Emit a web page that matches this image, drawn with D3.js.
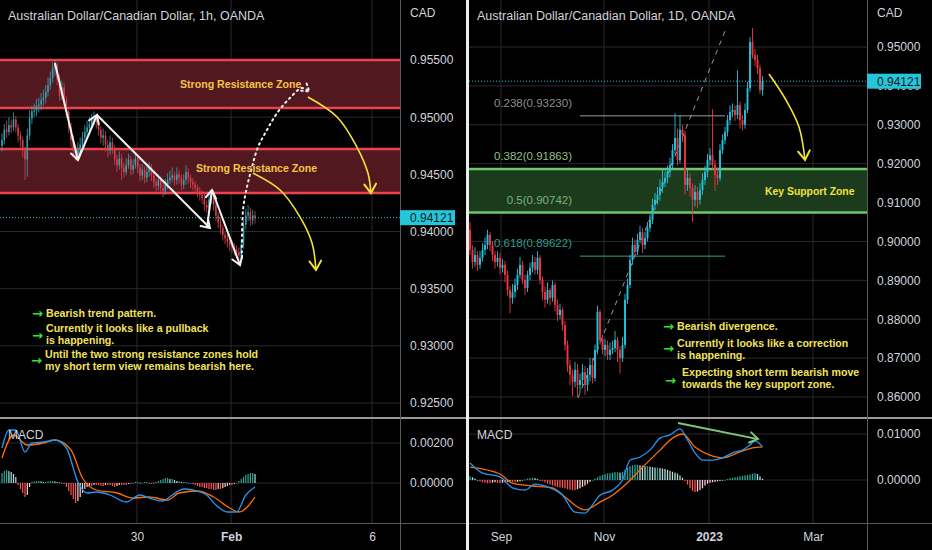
<!DOCTYPE html>
<html><head><meta charset="utf-8">
<script src="https://cdn.jsdelivr.net/npm/d3@7"></script>
<style>html,body{margin:0;padding:0;background:#000;overflow:hidden}svg{display:block}</style>
</head><body>
<svg id="c" width="932" height="550"></svg>
<script>
// ---------------- DATA ----------------
// Left: AUD/CAD 1h
const leftFirstOpen = 0.9475;
const leftClose = [0.9480,0.9489,0.9487,0.9493,0.9491,0.9498,0.9491,0.9484,0.9480,0.9471,
0.9463,0.9484,0.9499,0.9505,0.9506,0.9510,0.9511,0.9515,0.9517,0.9522,
0.9528,0.9534,0.9543,0.9546,0.9533,0.9519,0.9526,0.9515,0.9505,0.9491,
0.9480,0.9471,0.9467,0.9471,0.9476,0.9482,0.9487,0.9491,0.9494,0.9498,
0.9499,0.9496,0.9489,0.9482,0.9484,0.9476,0.9471,0.9478,0.9473,0.9463,
0.9458,0.9464,0.9456,0.9452,0.9458,0.9463,0.9454,0.9458,0.9464,0.9456,
0.9449,0.9454,0.9447,0.9452,0.9456,0.9449,0.9443,0.9440,0.9445,0.9438,
0.9435,0.9441,0.9445,0.9447,0.9449,0.9445,0.9450,0.9447,0.9441,0.9445,
0.9452,0.9447,0.9443,0.9441,0.9438,0.9435,0.9432,0.9429,0.9423,0.9421,
0.9428,0.9432,0.9423,0.9414,0.9408,0.9403,0.9397,0.9394,0.9391,0.9388,
0.9386,0.9384,0.9382,0.9379,0.9388,0.9406,0.9414,0.9417,0.9410,0.9414,
0.94121];
const leftHigh = [0.9486,0.9494,0.9497,0.9500,0.9498,0.9504,0.9501,0.9494,0.9488,0.9483,
0.9474,0.9490,0.9506,0.9510,0.9512,0.9516,0.9517,0.9521,0.9524,0.9528,
0.9535,0.9540,0.9548,0.9550,0.9548,0.9537,0.9532,0.9530,0.9518,0.9509,
0.9495,0.9484,0.9476,0.9478,0.9482,0.9487,0.9493,0.9497,0.9500,0.9503,
0.9505,0.9503,0.9499,0.9492,0.9490,0.9488,0.9480,0.9484,0.9482,0.9476,
0.9467,0.9470,0.9468,0.9460,0.9464,0.9468,0.9466,0.9463,0.9469,0.9467,
0.9459,0.9459,0.9457,0.9457,0.9461,0.9459,0.9452,0.9447,0.9450,0.9448,
0.9442,0.9446,0.9451,0.9453,0.9456,0.9452,0.9456,0.9454,0.9450,0.9450,
0.9458,0.9455,0.9450,0.9447,0.9444,0.9441,0.9439,0.9436,0.9433,0.9427,
0.9434,0.9437,0.9435,0.9426,0.9417,0.9412,0.9406,0.9400,0.9398,0.9395,
0.9392,0.9390,0.9388,0.9386,0.9392,0.9410,0.9420,0.9423,0.9421,0.9419,
0.9418];
const leftLow = [0.9470,0.9476,0.9482,0.9484,0.9486,0.9488,0.9487,0.9478,0.9474,0.9465,
0.9445,0.9448,0.9480,0.9494,0.9500,0.9501,0.9504,0.9506,0.9510,0.9512,
0.9518,0.9524,0.9530,0.9536,0.9528,0.9514,0.9515,0.9510,0.9499,0.9486,
0.9474,0.9466,0.9462,0.9463,0.9468,0.9472,0.9478,0.9483,0.9486,0.9490,
0.9493,0.9490,0.9484,0.9477,0.9475,0.9470,0.9465,0.9467,0.9468,0.9458,
0.9452,0.9454,0.9445,0.9447,0.9449,0.9455,0.9449,0.9450,0.9455,0.9451,
0.9444,0.9445,0.9442,0.9443,0.9448,0.9444,0.9438,0.9435,0.9436,0.9433,
0.9430,0.9432,0.9437,0.9441,0.9443,0.9440,0.9441,0.9442,0.9436,0.9437,
0.9441,0.9442,0.9438,0.9436,0.9433,0.9430,0.9427,0.9424,0.9418,0.9416,
0.9418,0.9424,0.9418,0.9409,0.9403,0.9398,0.9392,0.9389,0.9386,0.9383,
0.9381,0.9379,0.9377,0.9375,0.9376,0.9385,0.9402,0.9409,0.9405,0.9406,
0.9407];
const leftMacdIdx = [0,3,6,10,13,18,23,28,33,37,41,47,54,60,64,70,74,79,83,89,93,98,102,106,110];
const leftMacdVal = [0.00175,0.00265,0.00265,0.00155,0.0020,0.00205,0.00215,0.00175,0.00005,-0.0005,-0.00045,-0.0006,-0.00095,-0.0006,-0.00075,-0.0009,-0.0006,-0.0003,-0.00035,-0.0006,-0.0011,-0.00145,-0.00145,-0.0006,-0.0002];
const leftSignalIdx = [0,5,11,18,23,30,35,41,50,57,64,72,77,85,92,99,103,110];
const leftSignalVal = [0.00125,0.0024,0.0019,0.0020,0.00215,0.00165,0.00025,-0.00035,-0.0005,-0.00075,-0.0007,-0.00085,-0.0005,-0.0004,-0.0007,-0.00125,-0.00145,-0.0007];
const leftHistE5 = [50,60,65,60,55,45,30,
-10,-30,-50,-70,-60,-20,
5,8,10,10,8,5,5,8,10,10,8,5,3,0,-5,
-20,-40,-60,-80,-100,-90,-70,-50,-30,
-20,-15,-15,-10,-10,-10,-15,-15,-10,-10,-10,-15,-20,-15,-10,-10,-10,-10,-5,-5,
0,5,5,0,0,5,5,0,-5,-5,
5,10,15,20,25,25,20,20,15,10,10,5,5,5,0,0,
-5,-10,-15,-20,-20,-25,-25,-30,-30,-35,-35,-30,-30,-25,-20,-15,-10,-10,-5,0,
10,20,30,40,45,50,50,45];
const leftPriceTicks = [0.955,0.95,0.945,0.94,0.935,0.93,0.925];
const leftMacdTicks = [0.002,0];
const leftTimeIdx = [58.7,99.6,160.9];
const leftTimeLabels = ["30","Feb","6"];
const leftZones = [[0.9508,0.9550],[0.94336,0.94721]];
const lastPrice = 0.94121;

// Right: AUD/CAD 1D
const rightFirstOpen = 0.9030;
const rightClose = [0.8978,0.8947,0.8965,0.8940,0.8958,0.8978,0.8991,0.9017,0.8991,0.8965,
0.8947,0.8958,0.8932,0.8940,0.8914,0.8875,0.8855,0.8870,0.8888,0.8914,
0.8940,0.8901,0.8880,0.8914,0.8932,0.8947,0.8927,0.8958,0.8901,0.8870,
0.8850,0.8875,0.8855,0.8888,0.8837,0.8811,0.8824,0.8785,0.8734,0.8682,
0.8657,0.8639,0.8670,0.8631,0.8644,0.8664,0.8631,0.8657,0.8682,0.8649,
0.8721,0.8819,0.8747,0.8721,0.8734,0.8708,0.8721,0.8726,0.8747,0.8721,
0.8700,0.8734,0.8850,0.8888,0.8952,0.8991,0.8973,0.9004,0.9024,0.8991,
0.9009,0.9035,0.9055,0.9094,0.9107,0.9120,0.9138,0.9153,0.9163,0.9179,
0.9197,0.9235,0.9266,0.9209,0.9287,0.9274,0.9145,0.9163,0.9138,0.9107,
0.9127,0.9107,0.9132,0.9158,0.9179,0.9209,0.9222,0.9197,0.9171,0.9163,
0.9235,0.9261,0.9282,0.9312,0.9333,0.9338,0.9325,0.9351,0.9312,0.9300,
0.9338,0.9394,0.9513,0.9479,0.9467,0.9446,0.9389,0.94121];
const rightHigh = [0.9050,0.8990,0.8985,0.8975,0.8975,0.8995,0.9010,0.9030,0.9025,0.9000,
0.8975,0.8975,0.8970,0.8955,0.8950,0.8925,0.8885,0.8890,0.8905,0.8930,
0.8960,0.8950,0.8915,0.8925,0.8945,0.8965,0.8960,0.8975,0.8965,0.8910,
0.8885,0.8895,0.8880,0.8900,0.8895,0.8850,0.8840,0.8830,0.8795,0.8745,
0.8695,0.8670,0.8690,0.8685,0.8660,0.8685,0.8680,0.8675,0.8700,0.8700,
0.8735,0.8835,0.8825,0.8760,0.8750,0.8745,0.8740,0.8745,0.8770,0.8755,
0.8730,0.8755,0.8865,0.8905,0.8965,0.9010,0.9005,0.9020,0.9040,0.9035,
0.9025,0.9050,0.9070,0.9110,0.9125,0.9140,0.9160,0.9185,0.9180,0.9195,
0.9215,0.9250,0.9330,0.9290,0.9325,0.9300,0.9285,0.9185,0.9175,0.9150,
0.9145,0.9140,0.9150,0.9175,0.9195,0.9225,0.9240,0.9340,0.9210,0.9190,
0.9250,0.9275,0.9295,0.9325,0.9350,0.9355,0.9350,0.9440,0.9360,0.9325,
0.9355,0.9410,0.9525,0.9549,0.9495,0.9480,0.9455,0.9425];
const rightLow = [0.8965,0.8930,0.8935,0.8925,0.8930,0.8948,0.8965,0.8980,0.8975,0.8950,
0.8930,0.8935,0.8915,0.8920,0.8895,0.8860,0.8816,0.8840,0.8855,0.8875,
0.8905,0.8890,0.8862,0.8870,0.8900,0.8920,0.8915,0.8915,0.8890,0.8850,
0.8830,0.8840,0.8835,0.8845,0.8820,0.8795,0.8800,0.8770,0.8720,0.8665,
0.8630,0.8602,0.8625,0.8600,0.8610,0.8625,0.8605,0.8615,0.8640,0.8635,
0.8640,0.8710,0.8735,0.8710,0.8705,0.8695,0.8695,0.8710,0.8715,0.8690,
0.8660,0.8690,0.8725,0.8840,0.8880,0.8940,0.8960,0.8965,0.8995,0.8970,
0.8980,0.9000,0.9025,0.9045,0.9080,0.9095,0.9105,0.9125,0.9140,0.9150,
0.9165,0.9185,0.9225,0.9195,0.9200,0.9255,0.9120,0.9130,0.9115,0.9050,
0.9090,0.9085,0.9095,0.9120,0.9145,0.9165,0.9195,0.9185,0.9130,0.9145,
0.9155,0.9225,0.9250,0.9270,0.9300,0.9320,0.9310,0.9315,0.9290,0.9285,
0.9290,0.9330,0.9385,0.9470,0.9450,0.9430,0.9380,0.9375];
const rightMacdIdx = [0,5,12,17,22,26,32,37,42,46,49,52,57,61,64,68,72,76,80,84,87,90,93,97,101,105,109,112,114,117];
const rightMacdVal = [0.0037,0.0015,0.0007,-0.0017,-0.0022,-0.0009,-0.0017,-0.0033,-0.0070,-0.0072,-0.0054,-0.0033,-0.0022,0.0000,0.0043,0.0050,0.0065,0.0091,0.0098,0.0111,0.0087,0.0059,0.0043,0.0043,0.0048,0.0059,0.0065,0.0076,0.0085,0.0072];
const rightSignalIdx = [0,12,17,25,33,38,46,52,57,62,68,76,81,85,90,96,101,108,113,117];
const rightSignalVal = [0.0028,0.0013,-0.0007,-0.0013,-0.0017,-0.0037,-0.0065,-0.0048,-0.0033,-0.0011,0.0022,0.0065,0.0091,0.0100,0.0072,0.0054,0.0048,0.0061,0.0070,0.0072];
const rightHistE4 = [8,6,3,0,
-3,-5,-6,-7,-7,-6,-5,-6,-7,-6,-5,-4,
-3,-4,-5,-4,-3,-1,1,3,4,5,4,2,0,
-2,-5,-8,-10,-12,-14,-15,-16,-17,-18,-20,-21,-22,-22,-20,-18,-15,-12,
-8,-4,0,3,6,9,11,13,14,15,16,17,17,16,
18,22,26,30,32,33,33,32,31,30,30,29,28,27,27,26,25,24,22,20,18,16,14,10,
5,-2,-10,-18,-24,-26,-25,-22,-18,-12,
-8,-6,-5,-4,-3,-2,-1,0,
2,4,5,6,7,8,9,10,11,12,14,15,13,8,3];
const rightPriceTicks = [0.95,0.94,0.93,0.92,0.91,0.90,0.89,0.88,0.87,0.86];
const rightMacdTicks = [0.01,0];
const rightTimeIdx = [12.4,53.6,95.6,137.2];
const rightTimeLabels = ["Sep","Nov","2023","Mar"];
const fibLevels = [0.238,0.382,0.5,0.618];
const fibPrices = [0.93230,0.91863,0.90742,0.89622];
const supportZone = [0.90742,0.91863];

// ---------------- DRAW ----------------
const svg = d3.select("#c");
svg.append("rect").attr("width",932).attr("height",550).attr("fill","#000");
const defs = svg.append("defs");
function marker(id,color,size,dash){
  const m = defs.append("marker").attr("id",id).attr("viewBox","-12 -8 14 16")
    .attr("refX",0).attr("refY",0).attr("markerWidth",14).attr("markerHeight",16)
    .attr("markerUnits","userSpaceOnUse").attr("orient","auto");
  m.append("path").attr("d",`M${-size},${-size*0.65} L0,0 L${-size},${size*0.65}`)
    .attr("fill","none").attr("stroke",color).attr("stroke-width",2)
    .attr("stroke-linecap","round").attr("stroke-dasharray",dash||null);
}
marker("hw","#f2f2f2",8);
marker("hy","#f4e23a",9);
marker("hwd","#f2f2f2",7,"1.5 3.5");
marker("hg","#7cc878",8);

const FONT = "'Liberation Sans', Arial, sans-serif";
const TXT = "#d1d4dc";
const GRID = "#2a2a2a";

function drawPanel(p){
  const g = svg.append("g");
  const clipM = "cm"+p.id, clipH = "ch"+p.id;
  defs.append("clipPath").attr("id",clipM).append("rect")
    .attr("x",p.left).attr("y",0).attr("width",p.plotRight-p.left).attr("height",417);
  defs.append("clipPath").attr("id",clipH).append("rect")
    .attr("x",p.left).attr("y",419).attr("width",p.plotRight-p.left).attr("height",104);
  // grid
  g.selectAll(".hg").data(p.priceTicks).join("line")
    .attr("x1",p.left).attr("x2",p.plotRight).attr("y1",d=>p.y(d)).attr("y2",d=>p.y(d))
    .attr("stroke",GRID);
  g.selectAll(".hm").data(p.macdTicks).join("line")
    .attr("x1",p.left).attr("x2",p.plotRight).attr("y1",d=>p.ym(d)).attr("y2",d=>p.ym(d))
    .attr("stroke",GRID);
  g.selectAll(".vg").data(p.timeIdx).join("line")
    .attr("x1",d=>p.x(d)).attr("x2",d=>p.x(d)).attr("y1",0).attr("y2",523)
    .attr("stroke",GRID);
  const gm = g.append("g").attr("clip-path",`url(#${clipM})`);
  const gh = g.append("g").attr("clip-path",`url(#${clipH})`);
  p.main = gm; p.macd = gh;
  if (p.under) p.under(gm);
  // candles
  const idx = d3.range(p.close.length);
  const op = i => i===0 ? p.firstOpen : p.close[i-1];
  gm.selectAll(".wick").data(idx).join("line")
    .attr("x1",i=>p.x(i)).attr("x2",i=>p.x(i))
    .attr("y1",i=>p.y(p.high[i])).attr("y2",i=>p.y(p.low[i]))
    .attr("stroke",i=>p.close[i]>=op(i)?p.up:p.dn).attr("stroke-width",p.wickW);
  gm.selectAll(".body").data(idx).join("rect")
    .attr("x",i=>p.x(i)-p.bodyW/2).attr("width",p.bodyW)
    .attr("y",i=>p.y(Math.max(op(i),p.close[i])))
    .attr("height",i=>Math.max(1,Math.abs(p.y(op(i))-p.y(p.close[i]))))
    .attr("fill",i=>p.close[i]>=op(i)?p.up:p.dn);
  // last price line
  gm.append("line").attr("x1",p.left).attr("x2",p.plotRight)
    .attr("y1",p.y(lastPrice)).attr("y2",p.y(lastPrice))
    .attr("stroke","#26c6da").attr("stroke-width",1).attr("stroke-dasharray","1 2");
  // MACD histogram
  const hv = p.hist;
  const hcol = i => {
    const v=hv[i], pv = i>0?hv[i-1]:hv[i];
    if (v>=0) return v>=pv ? "#26a69a" : "#b2dfdb";
    return v<=pv ? "#ff5252" : "#ffcdd2";
  };
  gh.selectAll(".hb").data(d3.range(hv.length)).join("rect")
    .attr("x",i=>p.x(i)-p.histW/2).attr("width",p.histW)
    .attr("y",i=>Math.min(p.ym(0),p.ym(hv[i])))
    .attr("height",i=>Math.max(0.6,Math.abs(p.ym(hv[i])-p.ym(0))))
    .attr("fill",hcol);
  const ln = d3.line().x(d=>p.x(d[0])).y(d=>p.ym(d[1])).curve(d3.curveMonotoneX);
  gh.append("path").datum(p.sigIdx.map((d,i)=>[d,p.sigVal[i]])).attr("d",ln)
    .attr("fill","none").attr("stroke","#ff6d00").attr("stroke-width",1.3);
  gh.append("path").datum(p.macdIdx.map((d,i)=>[d,p.macdVal[i]])).attr("d",ln)
    .attr("fill","none").attr("stroke","#2196f3").attr("stroke-width",1.3);
  // frame lines
  g.append("line").attr("x1",p.left).attr("x2",p.right).attr("y1",418).attr("y2",418)
    .attr("stroke","#9a9a9a").attr("stroke-width",2);
  g.append("line").attr("x1",p.left).attr("x2",p.right).attr("y1",523.5).attr("y2",523.5)
    .attr("stroke","#5a5a5a");
  g.append("line").attr("x1",p.plotRight+0.5).attr("x2",p.plotRight+0.5).attr("y1",0).attr("y2",550)
    .attr("stroke","#5a5a5a");
  // axes
  const ay = g.append("g").attr("transform",`translate(${p.plotRight},0)`)
    .call(d3.axisRight(p.y).tickValues(p.priceTicks).tickFormat(d3.format(".5f")).tickSize(0).tickPadding(10));
  const am = g.append("g").attr("transform",`translate(${p.plotRight},0)`)
    .call(d3.axisRight(p.ym).tickValues(p.macdTicks).tickFormat(d3.format(".5f")).tickSize(0).tickPadding(10));
  const ax = g.append("g").attr("transform",`translate(0,523)`)
    .call(d3.axisBottom(p.x).tickValues(p.timeIdx).tickFormat((d,i)=>p.timeLabels[i]).tickSize(0).tickPadding(9));
  [ay,am,ax].forEach(a=>{
    a.select(".domain").remove();
    a.selectAll("text").attr("fill",TXT).style("font-family",FONT).style("font-size","12px");
  });
  ax.selectAll("text").style("font-weight",(d,i)=>p.boldTime.includes(i)?"bold":"normal");
  // price label
  g.append("rect").attr("x",p.plotRight).attr("y",p.y(lastPrice)-7.5).attr("width",p.boxW).attr("height",15)
    .attr("fill","#26c6da");
  g.append("text").attr("x",p.plotRight+10).attr("y",p.y(lastPrice)).attr("dy","0.36em")
    .attr("fill","#0b1a22").style("font-family",FONT).style("font-size","12px").text(d3.format(".5f")(lastPrice));
  // labels
  g.append("text").attr("x",p.plotRight+10).attr("y",17).attr("fill",TXT)
    .style("font-family",FONT).style("font-size","12px").text("CAD");
  g.append("text").attr("x",p.left+8).attr("y",20).attr("fill",TXT)
    .style("font-family",FONT).style("font-size","12.5px").text(p.title);
  g.append("text").attr("x",p.left+8).attr("y",439).attr("fill",TXT)
    .style("font-family",FONT).style("font-size","12px").text("MACD");
  return p;
}

// ---------- LEFT PANEL ----------
const L = {
  id:"L", left:0, plotRight:400, right:466, boxW:55,
  x: d3.scaleLinear().domain([0,110]).range([2,255]),
  y: d3.scaleLinear().domain([0.925,0.955]).range([403,60]),
  ym: d3.scaleLinear().domain([0,0.002]).range([483,443]),
  close:leftClose, high:leftHigh, low:leftLow, firstOpen:leftFirstOpen,
  up:"#36a3b0", dn:"#d8404c", bodyW:1.5, wickW:0.8, histW:1.2,
  hist: leftHistE5.map(v=>v*1e-5),
  macdIdx:leftMacdIdx, macdVal:leftMacdVal, sigIdx:leftSignalIdx, sigVal:leftSignalVal,
  priceTicks:leftPriceTicks, macdTicks:leftMacdTicks, timeIdx:leftTimeIdx, timeLabels:leftTimeLabels,
  boldTime:[1],
  title:"Australian Dollar/Canadian Dollar, 1h, OANDA",
  under: gm=>{
    leftZones.forEach(z=>{
      gm.append("rect").attr("x",0).attr("width",400).attr("y",L.y(z[1])).attr("height",L.y(z[0])-L.y(z[1]))
        .attr("fill","#521820");
      [z[0],z[1]].forEach(v=>gm.append("line").attr("x1",0).attr("x2",400).attr("y1",L.y(v)).attr("y2",L.y(v))
        .attr("stroke","#f0414e").attr("stroke-width",2.5));
    });
  }
};
drawPanel(L);

// left annotations
(function(){
  const g = L.main;
  const pl = d3.line().x(d=>L.x(d[0])).y(d=>L.y(d[1]));
  const cv = d3.line().x(d=>L.x(d[0])).y(d=>L.y(d[1])).curve(d3.curveCatmullRom.alpha(0.5));
  const whiteSegs = [
    [[23.0,0.95474],[33.0,0.94625]],
    [[33.0,0.94625],[41.3,0.95019]],
    [[41.3,0.95019],[90.4,0.94030]],
    [[89.1,0.94030],[91.3,0.94363]],
    [[91.3,0.94363],[103.5,0.93706]]
  ];
  whiteSegs.forEach(s=>g.append("path").attr("d",pl(s)).attr("fill","none")
    .attr("stroke","#f2f2f2").attr("stroke-width",2).attr("marker-end","url(#hw)"));
  const dotted = [[104.3,0.93768],[104.8,0.94188],[106.5,0.94389],[108.7,0.94564],[111.3,0.94739],
    [115.2,0.94888],[119.6,0.95036],[125.2,0.95168],[130.4,0.95255],[133.6,0.95225]];
  g.append("path").attr("d",cv(dotted)).attr("fill","none").attr("stroke","#f2f2f2")
    .attr("stroke-width",2).attr("stroke-dasharray","1.5 4").attr("stroke-linecap","round")
    .attr("marker-end","url(#hwd)");
  const y1 = [[133.0,0.95176],[145.7,0.95001],[154.3,0.94739],[159.1,0.94511],[160.4,0.94336]];
  const y2 = [[109.1,0.94511],[120.9,0.94363],[129.6,0.94126],[134.8,0.93899],[136.5,0.93663]];
  [y1,y2].forEach(c=>g.append("path").attr("d",cv(c)).attr("fill","none").attr("stroke","#f4e23a")
    .attr("stroke-width",1.6).attr("marker-end","url(#hy)"));
  const zl = [["Strong Resistance Zone",77.4,0.9529],["Strong Resistance Zone",84.3,0.94555]];
  zl.forEach(t=>g.append("text").attr("x",L.x(t[1])).attr("y",L.y(t[2])).attr("dy","0.36em")
    .attr("fill","#f5c542").style("font-family",FONT).style("font-size","10.6px").style("font-weight","bold").text(t[0]));
})();

// ---------- RIGHT PANEL ----------
const R = {
  id:"R", left:469, plotRight:867, right:932, boxW:54,
  x: d3.scaleLinear().domain([0,117]).range([470,762.5]),
  y: d3.scaleLinear().domain([0.86,0.95]).range([397,47]),
  ym: d3.scaleLinear().domain([0,0.01]).range([480,434]),
  close:rightClose, high:rightHigh, low:rightLow, firstOpen:rightFirstOpen,
  up:"#22c3dc", dn:"#ee3444", bodyW:1.9, wickW:0.9, histW:1.3,
  hist: rightHistE4.map(v=>v*1e-4),
  macdIdx:rightMacdIdx, macdVal:rightMacdVal, sigIdx:rightSignalIdx, sigVal:rightSignalVal,
  priceTicks:rightPriceTicks, macdTicks:rightMacdTicks, timeIdx:rightTimeIdx, timeLabels:rightTimeLabels,
  boldTime:[2],
  title:"Australian Dollar/Canadian Dollar, 1D, OANDA",
  under: gm=>{
    gm.append("rect").attr("x",469).attr("width",398).attr("y",R.y(supportZone[1]))
      .attr("height",R.y(supportZone[0])-R.y(supportZone[1])).attr("fill","#1c3b1c");
    supportZone.forEach(v=>gm.append("line").attr("x1",469).attr("x2",867).attr("y1",R.y(v)).attr("y2",R.y(v))
      .attr("stroke","#6cc86a").attr("stroke-width",2.5));
    [0,3].forEach(k=>gm.append("line").attr("x1",R.x(44)).attr("x2",R.x(102))
      .attr("y1",R.y(fibPrices[k])).attr("y2",R.y(fibPrices[k]))
      .attr("stroke",k===0?"#9a9a9a":"#26a69a").attr("stroke-width",1));
    gm.append("line").attr("x1",R.x(43.2)).attr("y1",R.y(0.85976)).attr("x2",R.x(102)).attr("y2",R.y(0.95411))
      .attr("stroke","#9a9a9a").attr("stroke-width",1).attr("stroke-dasharray","5 5");
  }
};
drawPanel(R);

(function(){
  const g = R.main;
  const fibCol = ["#8e8e8e","#93bf85","#7fb07f","#2a9d8f"];
  fibLevels.forEach((lv,i)=>g.append("text").attr("x",R.x(40.8)).attr("y",R.y(fibPrices[i])-9)
    .attr("text-anchor","end").attr("fill",fibCol[i]).style("font-family",FONT).style("font-size","11.5px")
    .text(`${lv}(${fibPrices[i].toFixed(5)})`));
  const cv = d3.line().x(d=>R.x(d[0])).y(d=>R.y(d[1])).curve(d3.curveCatmullRom.alpha(0.5));
  g.append("path").attr("d",cv([[119.6,0.94306],[126.4,0.93637],[131.6,0.92943],[134.0,0.92095]]))
    .attr("fill","none").attr("stroke","#f4e23a").attr("stroke-width",1.6).attr("marker-end","url(#hy)");
  g.append("text").attr("x",R.x(118)).attr("y",R.y(0.91298)).attr("dy","0.36em")
    .attr("fill","#f2e23c").style("font-family",FONT).style("font-size","10.4px").style("font-weight","bold").text("Key Support Zone");
  const hl = d3.line().x(d=>R.x(d[0])).y(d=>R.ym(d[1]));
  R.macd.append("path").attr("d",hl([[83.2,0.01239],[115.2,0.00891]])).attr("fill","none")
    .attr("stroke","#7cc878").attr("stroke-width",1.8).attr("marker-end","url(#hg)");
})();

// ---------- NOTES ----------
function notes(items){
  items.forEach(it=>{
    svg.append("text").attr("x",it.ax).attr("y",it.ay).attr("dy","0.36em").attr("fill","#2fe52f")
      .style("font-family","'DejaVu Sans', sans-serif").style("font-size","13px").style("font-weight","bold").text("→");
    it.lines.forEach((l,k)=>svg.append("text").attr("x",it.x).attr("y",it.y+k*12).attr("fill","#f1e35c")
      .style("font-family",FONT).style("font-size","10.6px").style("font-weight","bold").text(l));
  });
}
notes([
  {ax:32,ay:313,x:46,y:317,lines:["Bearish trend pattern."]},
  {ax:32,ay:335,x:46,y:332,lines:["Currently it looks like a pullback","is happening."]},
  {ax:31,ay:360,x:45,y:358,lines:["Until the two strong resistance zones hold","my short term view remains bearish here."]},
  {ax:663,ay:326,x:677,y:330,lines:["Bearish divergence."]},
  {ax:663,ay:348,x:677,y:347,lines:["Currently it looks like a correction","is happening."]},
  {ax:665,ay:380,x:682,y:376,lines:["Expecting short term bearish move","towards the key support zone."]}
]);

// divider between the two screenshots
svg.append("rect").attr("x",466).attr("y",0).attr("width",3).attr("height",550).attr("fill","#ececec");
</script>
</body></html>
